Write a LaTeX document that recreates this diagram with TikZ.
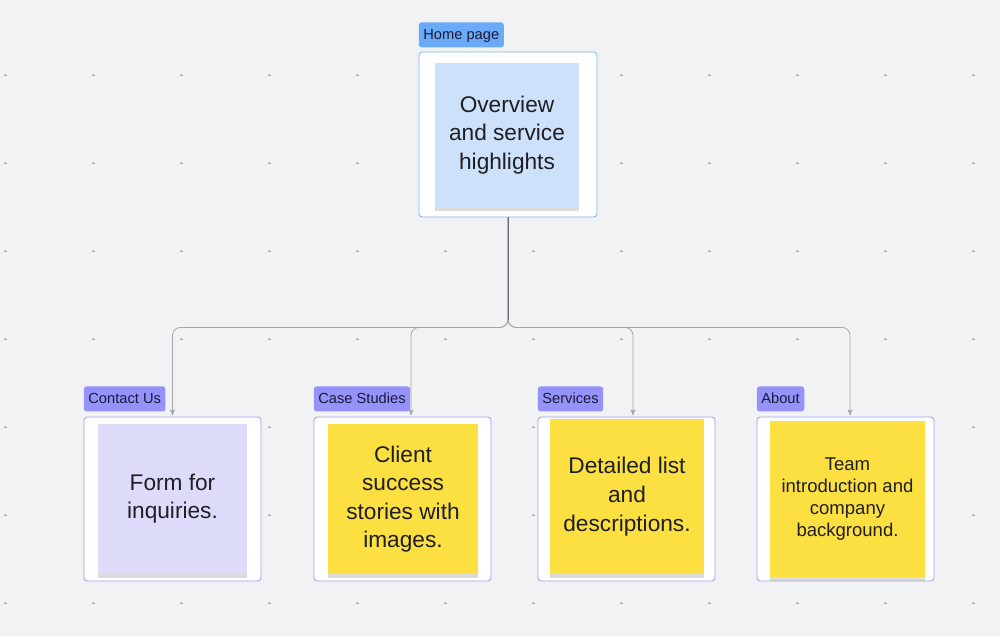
\documentclass[tikz,border=0pt]{standalone}
\usepackage{fontspec}
\setmainfont{Liberation Sans}
\usetikzlibrary{arrows,positioning,shadows}

\definecolor{canvas}{HTML}{F1F2F4}
\definecolor{griddot}{HTML}{A4A6AC}
\definecolor{homeblue}{HTML}{6AAAF7}
\definecolor{homeline}{HTML}{7DB3F3}
\definecolor{homenote}{HTML}{CDE1FB}
\definecolor{pagepurple}{HTML}{9592FA}
\definecolor{pageline}{HTML}{A09DF6}
\definecolor{lavender}{HTML}{DCDCFA}
\definecolor{sticky}{HTML}{FCDF40}
\definecolor{inktext}{HTML}{1E1E24}
\definecolor{tagtext}{HTML}{1B1A3A}
\definecolor{linkgray}{HTML}{A6A7AA}
\definecolor{trunkgray}{HTML}{6A6B6E}

\begin{document}
\begin{tikzpicture}[x=0.75pt,y=-0.75pt,>=stealth',shorten >=1pt,
    frame/.style={draw=#1,fill=white,rounded corners=2.5pt,line width=0.6pt,
      minimum width=132.75pt,minimum height=123pt},
    tag/.style={fill=#1,rounded corners=2pt,text=tagtext,anchor=south west,
      font=\fontsize{11}{12}\selectfont,inner xsep=3.4pt,inner ysep=0pt,
      text height=8.6pt,text depth=2pt,minimum height=18.75pt},
    note/.style={fill=#1,align=center,text=inktext,inner sep=0pt,
      drop shadow={shadow xshift=0.3pt,shadow yshift=-3pt,opacity=0.28},
      font=\fontsize{17}{21.2}\selectfont},
    link/.style={draw=linkgray,line width=0.6pt,rounded corners=6pt,->}]

    % canvas and dot grid
    \fill[canvas] (0,0) rectangle (1000,636);
    \useasboundingbox (0,0) rectangle (1000,636);
    \foreach \gx in {0,...,11}
      \foreach \gy in {0,...,6}
        \draw[griddot,line width=0.35pt] (5+88*\gx-1.5,75+88*\gy) -- ++(3,0)
          (5+88*\gx,75+88*\gy-1.5) -- ++(0,3);

    % home page
    \node[frame=homeline,minimum width=133.5pt,minimum height=123.75pt] (home) at (508,134.5) {};
    \node[note=homenote,minimum width=108pt,minimum height=108pt] (homenote) at (507,135)
      {Overview\\and service\\highlights};
    \node[tag=homeblue] (hometag) [above right=3pt and 0pt of home.north west] {Home page};

    % sub pages
    \node[frame=pageline] (contact) at (172.5,499) {};
    \node[frame=pageline] (cases) at (402.5,499) {};
    \node[frame=pageline] (services) at (626.5,499) {};
    \node[frame=pageline] (about) at (845.5,499) {};

    \node[note=lavender,minimum width=111.75pt,minimum height=112.5pt] (contactnote) at (172.5,499)
      {Form for\\inquiries.};
    \node[note=sticky,minimum width=112.5pt,minimum height=112.5pt] (casesnote) at (403,499)
      {Client\\success\\stories with\\images.};
    \node[note=sticky,minimum width=115.5pt,minimum height=116.25pt,font=\fontsize{17}{21.8}\selectfont] (servicesnote) at (627,496.5)
      {Detailed list\\and\\descriptions.};
    \node[note=sticky,minimum width=116.25pt,minimum height=117pt,font=\fontsize{13.9}{16.7}\selectfont] (aboutnote) at (847.5,499)
      {Team\\introduction and\\company\\background.};

    \node[tag=pagepurple] (contacttag) [above right=3.7pt and 0pt of contact.north west] {Contact Us};
    \node[tag=pagepurple] (casestag) [above right=3.7pt and 0pt of cases.north west] {Case Studies};
    \node[tag=pagepurple] (servicestag) [above right=3.7pt and 0pt of services.north west] {Services};
    \node[tag=pagepurple] (abouttag) [above right=3.7pt and 0pt of about.north west] {About};

    % links
    \draw[link] (home.south) -- ++(0,110) -| (contact.north);
    \draw[link] (home.south) -- ++(0,110) -| ([xshift=6.4pt]cases.north);
    \draw[link] (home.south) -- ++(0,110) -| ([xshift=4.9pt]services.north);
    \draw[link] (home.south) -- ++(0,110) -| ([xshift=3.4pt]about.north);
    \draw[trunkgray,line width=0.6pt] (home.south) -- ++(0,104);
\end{tikzpicture}
\end{document}
